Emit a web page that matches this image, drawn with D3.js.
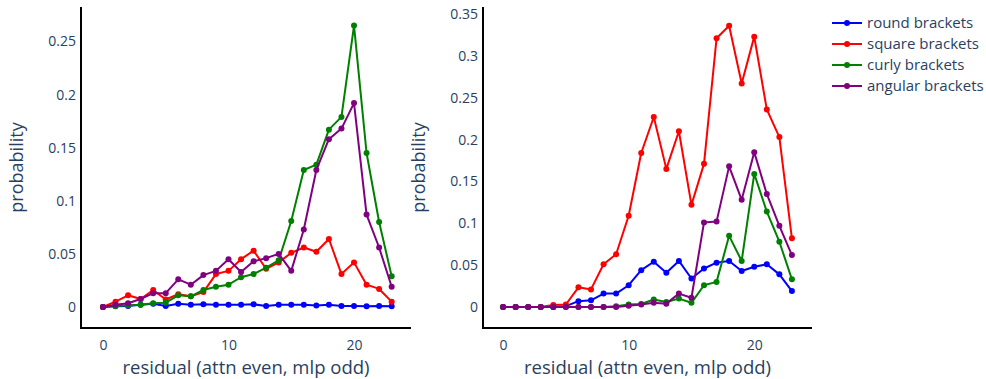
<!DOCTYPE html>
<html>
<head>
<meta charset="utf-8">
<script src="https://cdn.jsdelivr.net/npm/d3@7"></script>
<style>
    body { margin: 0; background: #fff; }
    svg text { font-family: "Open Sans", verdana, arial, sans-serif; fill: #2a3f5f; }
</style>
</head>
<body>
<svg id="canvas"></svg>
<script>
const residual = d3.range(0, 24);
const seriesNames = ["round brackets", "square brackets", "curly brackets", "angular brackets"];
const seriesColors = ["#0000ff", "#ff0000", "#008000", "#800080"];

// left panel
const leftRound = [0, 0.0006, 0.001, 0.002, 0.003, 0.001, 0.003, 0.002, 0.0025, 0.002, 0.002, 0.002,
    0.0025, 0.001, 0.002, 0.002, 0.002, 0.0015, 0.002, 0.001, 0.001, 0.0006, 0.001, 0.0006];
const leftSquare = [0, 0.005, 0.011, 0.0075, 0.016, 0.007, 0.012, 0.010, 0.014, 0.031, 0.034, 0.045,
    0.053, 0.036, 0.042, 0.051, 0.056, 0.052, 0.064, 0.031, 0.042, 0.021, 0.017, 0.005];
const leftCurly = [0, 0.001, 0.0016, 0.002, 0.0035, 0.004, 0.011, 0.010, 0.016, 0.019, 0.021, 0.028,
    0.031, 0.037, 0.044, 0.081, 0.129, 0.134, 0.167, 0.179, 0.265, 0.145, 0.080, 0.029];
const leftAngular = [0, 0.002, 0.0035, 0.0075, 0.013, 0.013, 0.026, 0.021, 0.030, 0.034, 0.045, 0.033,
    0.043, 0.046, 0.050, 0.034, 0.073, 0.129, 0.158, 0.168, 0.192, 0.087, 0.056, 0.019];

// right panel
const rightRound = [0, 0, 0, 0, 0, 0.001, 0.007, 0.008, 0.016, 0.016, 0.026, 0.044,
    0.054, 0.041, 0.055, 0.034, 0.046, 0.053, 0.055, 0.043, 0.048, 0.051, 0.039, 0.019];
const rightSquare = [0, 0, 0, 0, 0.0024, 0.003, 0.0235, 0.021, 0.051, 0.063, 0.109, 0.184,
    0.227, 0.165, 0.210, 0.122, 0.171, 0.321, 0.336, 0.267, 0.323, 0.236, 0.203, 0.082];
const rightCurly = [0, 0, 0, 0, 0, 0, 0, 0, 0, 0.001, 0.003, 0.0035,
    0.009, 0.006, 0.010, 0.005, 0.026, 0.030, 0.085, 0.055, 0.159, 0.114, 0.078, 0.033];
const rightAngular = [0, 0, 0, 0, 0, 0, 0, 0, 0, 0, 0.0016, 0.003,
    0.005, 0.004, 0.016, 0.011, 0.101, 0.102, 0.168, 0.128, 0.185, 0.135, 0.097, 0.062];

const xTicks = [0, 10, 20];
const leftYTicks = [0, 0.05, 0.1, 0.15, 0.2, 0.25];
const rightYTicks = [0, 0.05, 0.1, 0.15, 0.2, 0.25, 0.3, 0.35];

const width = 986;
const height = 379;

const svg = d3.select("#canvas")
    .attr("width", width)
    .attr("height", height);

const panels = [
    { left: 81, right: 411, xDomain: [-1.75, 24.54], yDomain: [-0.0198, 0.2825],
      yTicks: leftYTicks, series: [leftRound, leftSquare, leftCurly, leftAngular] },
    { left: 483, right: 812, xDomain: [-1.6, 24.6], yDomain: [-0.0251, 0.3584],
      yTicks: rightYTicks, series: [rightRound, rightSquare, rightCurly, rightAngular] }
];
const plotTop = 7;
const plotBottom = 328;

panels.forEach(p => {
    const x = d3.scaleLinear().domain(p.xDomain).range([p.left, p.right]);
    const y = d3.scaleLinear().domain(p.yDomain).range([plotBottom, plotTop]);

    const g = svg.append("g");

    // axes (plotly style: line, no ticks)
    const xAxis = d3.axisBottom(x).tickValues(xTicks).tickSize(0).tickPadding(12)
        .tickFormat(d3.format("d"));
    g.append("g")
        .attr("transform", `translate(0,${plotBottom})`)
        .call(xAxis)
        .call(a => a.select(".domain").attr("stroke", "#000").attr("stroke-width", 2)
            .attr("d", `M${p.left - 1},0H${p.right}`))
        .call(a => a.selectAll("text").attr("font-size", 14).attr("fill", "#2a3f5f")
            .attr("font-family", null));

    const yAxis = d3.axisLeft(y).tickValues(p.yTicks).tickSize(0).tickPadding(5)
        .tickFormat(d => d === 0 ? "0" : String(+d.toFixed(2)));
    g.append("g")
        .attr("transform", `translate(${p.left},0)`)
        .call(yAxis)
        .call(a => a.select(".domain").attr("stroke", "#000").attr("stroke-width", 2)
            .attr("d", `M0,${plotTop}V${plotBottom + 1}`))
        .call(a => a.selectAll("text").attr("font-size", 14).attr("fill", "#2a3f5f")
            .attr("font-family", null));

    g.append("text")
        .attr("x", (p.left + p.right) / 2)
        .attr("y", 374)
        .attr("text-anchor", "middle")
        .attr("font-size", 18.5)
        .text("residual (attn even, mlp odd)");

    g.append("text")
        .attr("transform", `translate(${p.left - 58},${(plotTop + plotBottom) / 2}) rotate(-90)`)
        .attr("text-anchor", "middle")
        .attr("font-size", 18)
        .text("probability");

    const line = d3.line()
        .x((d, i) => x(residual[i]))
        .y(d => y(d));

    p.series.forEach((vals, si) => {
        const s = g.append("g");
        s.append("path")
            .datum(vals)
            .attr("fill", "none")
            .attr("stroke", seriesColors[si])
            .attr("stroke-width", 2)
            .attr("stroke-linejoin", "round")
            .attr("d", line);
        s.selectAll("circle")
            .data(vals)
            .enter()
            .append("circle")
            .attr("cx", (d, i) => x(residual[i]))
            .attr("cy", d => y(d))
            .attr("r", 3)
            .attr("fill", seriesColors[si]);
    });
});

// legend
const legend = svg.append("g").attr("transform", "translate(832,23)");
seriesNames.forEach((name, i) => {
    const item = legend.append("g").attr("transform", `translate(0,${i * 21})`);
    item.append("line")
        .attr("x1", 0).attr("x2", 30)
        .attr("stroke", seriesColors[i]).attr("stroke-width", 2);
    item.append("circle").attr("cx", 15).attr("r", 3).attr("fill", seriesColors[i]);
    item.append("text")
        .attr("x", 35)
        .attr("dy", "0.35em")
        .attr("font-size", 15)
        .text(name);
});
</script>
</body>
</html>
